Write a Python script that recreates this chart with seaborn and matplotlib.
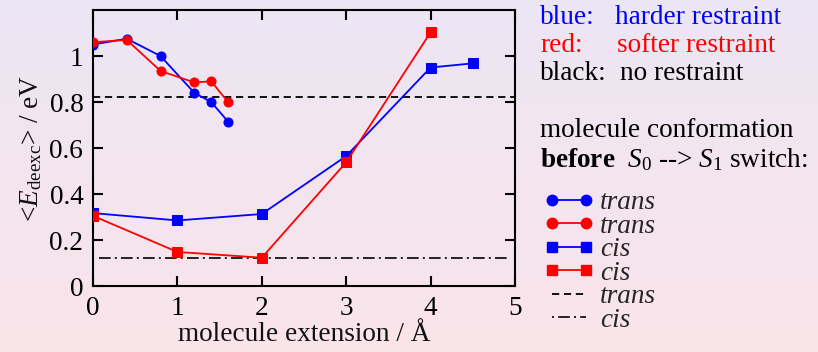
import numpy as np
import matplotlib
matplotlib.use("Agg")
import matplotlib.pyplot as plt
import seaborn as sns
from matplotlib.lines import Line2D

# ---- data ----
trans_x = [0, 0.4, 0.8, 1.2, 1.4, 1.6]
blue_trans = [1.05, 1.075, 1.0, 0.84, 0.80, 0.715]
red_trans = [1.06, 1.07, 0.935, 0.885, 0.89, 0.80]
blue_cis_x = [0, 1, 2, 3, 4, 4.5]
blue_cis = [0.317, 0.285, 0.313, 0.565, 0.95, 0.968]
red_cis_x = [0, 1, 2, 3, 4]
red_cis = [0.305, 0.148, 0.123, 0.538, 1.103]
trans_ref = 0.822
cis_ref = 0.122
x_ticks = [0, 1, 2, 3, 4, 5]
y_ticks = [0, 0.2, 0.4, 0.6, 0.8, 1.0]
y_ticklabels = ["0", "0.2", "0.4", "0.6", "0.8", "1"]

sns.set_theme(style="ticks")
plt.rcParams["font.family"] = ["Liberation Serif", "DejaVu Serif"]
plt.rcParams["mathtext.fontset"] = "custom"
plt.rcParams["mathtext.rm"] = "Liberation Serif"
plt.rcParams["mathtext.it"] = "Liberation Serif:italic"
plt.rcParams["mathtext.bf"] = "Liberation Serif:bold"

FS = 19.6
W, H = 818, 352
fig = plt.figure(figsize=(W / 100, H / 100), dpi=100)

# background gradient
bg = fig.add_axes([0, 0, 1, 1], zorder=-10)
top = np.array([236, 230, 244]) / 255
bot = np.array([250, 228, 234]) / 255
t = np.linspace(0, 1, 256)[:, None]
grad = top[None, :] * (1 - t) + bot[None, :] * t
bg.imshow(grad[:, None, :], aspect="auto", extent=[0, 1, 0, 1])
bg.set_axis_off()

ax = fig.add_axes([93 / W, 1 - 286 / H, (515 - 93) / W, (286 - 10) / H])
ax.set_facecolor("none")

lw = 1.3
ms = 6.5
ax.axhline(trans_ref, color="black", lw=1.3, linestyle=(0, (4, 2.6)), zorder=1)
ax.axhline(cis_ref, color="black", lw=1.2, xmin=0.015, xmax=0.985,
           linestyle=(0, (7, 2.5, 1.2, 2.5)), zorder=1)

sns.lineplot(x=blue_cis_x, y=blue_cis, ax=ax, color="blue", lw=lw, marker="s",
             markersize=ms, markeredgecolor="blue", zorder=3)
sns.lineplot(x=red_cis_x, y=red_cis, ax=ax, color="red", lw=lw, marker="s",
             markersize=ms, markeredgecolor="red", zorder=3)
sns.lineplot(x=trans_x, y=blue_trans, ax=ax, color="blue", lw=lw, marker="o",
             markersize=ms, markeredgecolor="blue", zorder=3)
sns.lineplot(x=trans_x, y=red_trans, ax=ax, color="red", lw=lw, marker="o",
             markersize=ms, markeredgecolor="red", zorder=3)

ax.set_xlim(0, 5)
ax.set_ylim(0, 1.2)
ax.set_xticks(x_ticks)
ax.set_xticklabels([str(v) for v in x_ticks])
ax.set_yticks(y_ticks)
ax.set_yticklabels(y_ticklabels)
ax.tick_params(direction="in", length=7, width=1.5, labelsize=FS, top=True,
               right=True, colors="black")
ax.tick_params(axis="y", pad=7)
ax.tick_params(axis="x", pad=7)
for s in ax.spines.values():
    s.set_linewidth(1.5)
    s.set_color("black")
    s.set_visible(True)
ax.set_xlabel("molecule extension / Å", fontsize=FS, labelpad=1, color="#111111")
ax.set_ylabel(r"<$E_{\rm deexc}$> / eV", fontsize=FS, labelpad=4, color="#111111")

# legend
lms = 7.5
handles = [
    Line2D([], [], color="blue", lw=lw, marker="o", markersize=lms),
    Line2D([], [], color="red", lw=lw, marker="o", markersize=lms),
    Line2D([], [], color="blue", lw=lw, marker="s", markersize=lms),
    Line2D([], [], color="red", lw=lw, marker="s", markersize=lms),
    Line2D([], [], color="black", lw=1.3, linestyle=(0, (4, 2.6))),
    Line2D([], [], color="black", lw=1.2, linestyle=(0, (1.2, 2.5, 7, 2.5))),
]
labels = ["trans", "trans", "cis", "cis", "trans", "cis"]
leg = ax.legend(handles, labels, loc="upper left",
                bbox_to_anchor=(544 / W, 1 - 190 / H),
                bbox_transform=fig.transFigure, frameon=False, numpoints=2,
                handlelength=1.85, handletextpad=0.2, labelspacing=-0.055,
                borderpad=0, borderaxespad=0,
                prop={"family": "Liberation Serif", "style": "italic", "size": FS})

# annotation text
x0 = 540 / W
fig.text(x0, 1 - 17 / H, "blue:", color="blue", fontsize=FS, va="center")
fig.text(615 / W, 1 - 17 / H, "harder restraint", color="blue", fontsize=FS, va="center")
fig.text(x0, 1 - 46 / H, "red:", color="red", fontsize=FS, va="center")
fig.text(617 / W, 1 - 46 / H, "softer restraint", color="red", fontsize=FS, va="center")
fig.text(x0, 1 - 74 / H, "black:", color="black", fontsize=FS, va="center")
fig.text(620 / W, 1 - 74 / H, "no restraint", color="black", fontsize=FS, va="center")
fig.text(x0, 1 - 130 / H, "molecule conformation", color="black", fontsize=FS, va="center")
fig.text(x0, 1 - 160 / H,
         r"$\mathbf{before}$  $S_{\mathit{0}}$ --> $S_{\mathit{1}}$ switch:",
         color="black", fontsize=FS, va="center")

fig.savefig("out.png", dpi=100)
